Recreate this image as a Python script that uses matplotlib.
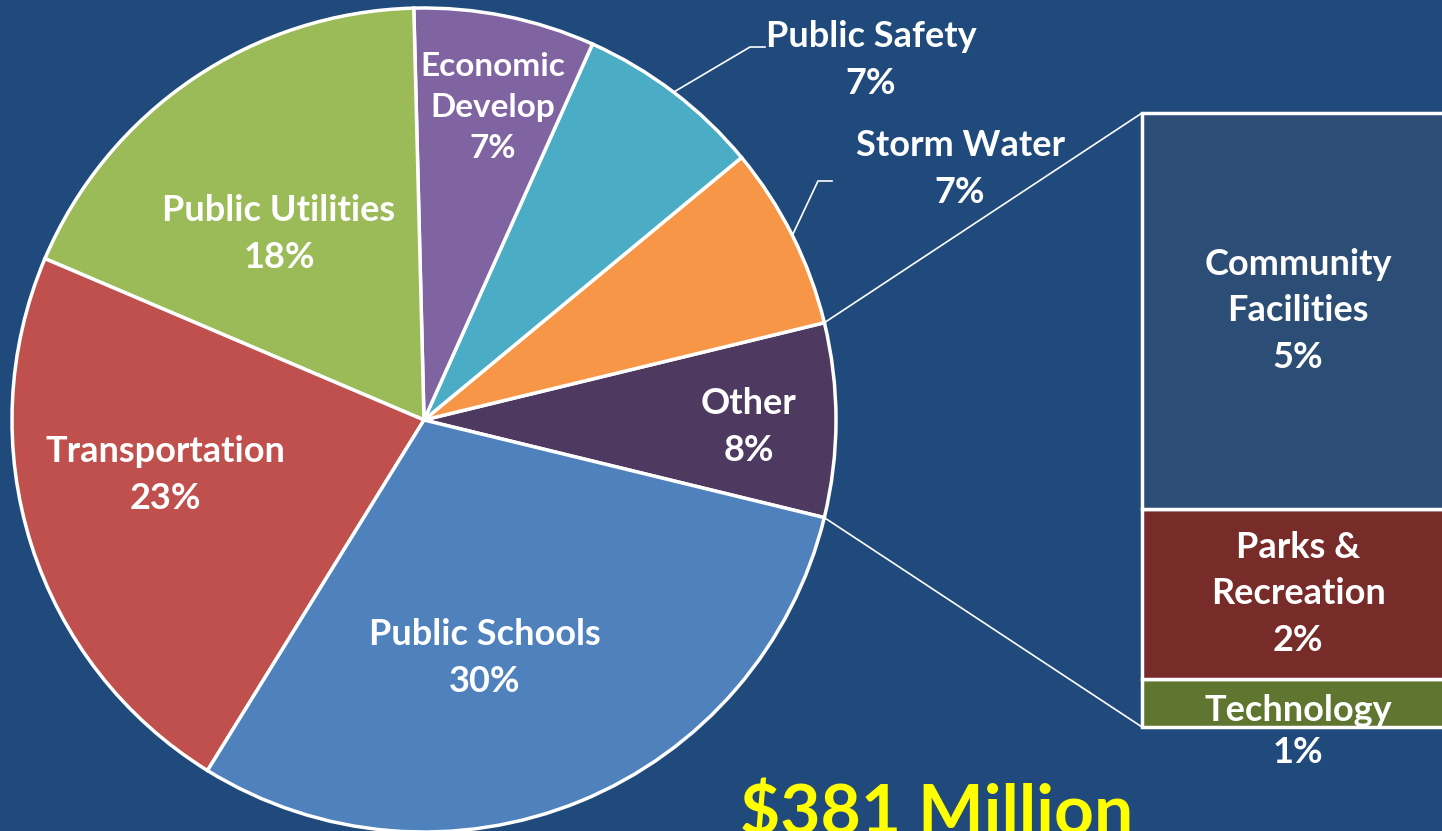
import matplotlib
matplotlib.use('Agg')
import numpy as np
import matplotlib.pyplot as plt

# pie slices, counterclockwise starting from "Other"
pie_labels = ['Other', 'Storm Water', 'Public Safety', 'Economic\nDevelop',
              'Public Utilities', 'Transportation', 'Public Schools']
pie_values = [7.6, 7.2, 7.3, 7.1, 18.2, 22.6, 30.0]
pie_colors = ['#4E3A60', '#F79646', '#4BACC6', '#8064A2',
              '#9BBB59', '#C0504D', '#4F81BD']

# breakdown of "Other", bottom to top
bar_labels = ['Technology', 'Parks &\nRecreation', 'Community\nFacilities']
bar_values = [0.6, 2.1, 4.9]
bar_colors = ['#5F7530', '#772C2A', '#2C4D75']

total_text = '$381 Million'

BG = '#214A7C'
W, H = 1442, 831
FS = 26


def px(x, y):
    # picture pixel (y from top) -> data coords (y from bottom)
    return x, H - y


fig = plt.figure(figsize=(W / 100, H / 100), dpi=100, facecolor=BG)
ax = fig.add_axes([0, 0, 1, 1])
ax.set_facecolor(BG)

cx, cy = px(424, 420)
R = 412
start = -13.7
wedges, _ = ax.pie(pie_values, colors=pie_colors, startangle=start, counterclock=True,
                   center=(cx, cy), radius=R, frame=True,
                   wedgeprops=dict(edgecolor='white', linewidth=2.5))
ax.set_xlim(0, W)
ax.set_ylim(0, H)
ax.set_aspect('auto')
ax.axis('off')

font = dict(family=['Lato', 'DejaVu Sans'], weight='bold', color='white')

# labels inside the pie (picture pixel positions)
inner_pos = {
    'Other': (749, 427, FS),
    'Economic\nDevelop': (493, 108, 24),
    'Public Utilities': (279, 234, FS),
    'Transportation': (165, 475, FS),
    'Public Schools': (485, 658, FS),
}
for lab, val in zip(pie_labels, pie_values):
    if lab in inner_pos:
        x, y, fs = inner_pos[lab]
        ax.text(*px(x, y), f'{lab}\n{val:.0f}%', ha='center', va='center',
                fontsize=fs, linespacing=1.5, **font)


def edge_point(w):
    a = np.deg2rad((w.theta1 + w.theta2) / 2)
    return cx + R * np.cos(a), cy + R * np.sin(a)


# outside labels with leader lines
outside = {
    'Public Safety': ((750, 47), (765, 47), (871, 60)),
    'Storm Water': ((818, 181), (832, 181), (960, 169)),
}
for w, lab, val in zip(wedges, pie_labels, pie_values):
    if lab in outside:
        p1, p2, tp = outside[lab]
        x0, y0 = edge_point(w)
        ax.plot([x0, px(*p1)[0], px(*p2)[0]], [y0, px(*p1)[1], px(*p2)[1]],
                color='white', lw=1.2)
        ax.text(*px(*tp), f'{lab}\n{val:.0f}%', ha='center', va='center',
                fontsize=FS, linespacing=1.5, **font)

# connector lines from "Other" to the bar
bx0, by_top, by_bot = 1142, 113, 727
w_other = wedges[0]
for th, py in [(w_other.theta2, by_top), (w_other.theta1, by_bot)]:
    a = np.deg2rad(th)
    ax.plot([cx + R * np.cos(a), bx0], [cy + R * np.sin(a), H - py],
            color='white', lw=1.2)

# stacked bar
bax = fig.add_axes([bx0 / W, (H - by_bot) / H, (W - bx0) / W, (by_bot - by_top) / H])
bax.set_facecolor('none')
bottom = 0
for lab, val, col in zip(bar_labels, bar_values, bar_colors):
    bax.bar(0, val, bottom=bottom, width=2.0, align='edge', color=col,
            edgecolor='white', linewidth=2.5, clip_on=False)
    if lab == 'Technology':
        bax.text(0.52, bottom + val * 0.35, lab, ha='center', va='center',
                 fontsize=FS, **font)
        bax.text(0.52, bottom - 0.31, f'{val:.0f}%', ha='center', va='center',
                 fontsize=FS, **font)
    else:
        bax.text(0.52, bottom + val * 0.5, f'{lab}\n{val:.0f}%',
                 ha='center', va='center', fontsize=FS, linespacing=1.5, **font)
    bottom += val
bax.set_xlim(0, 1)
bax.set_ylim(0, sum(bar_values))
bax.axis('off')

ax.text(*px(937, 835), total_text, ha='center', va='baseline', fontsize=50,
        family=['Lato', 'DejaVu Sans'], weight='bold', color='#FFFF00')

fig.savefig('out.png', dpi=100, facecolor=BG)
